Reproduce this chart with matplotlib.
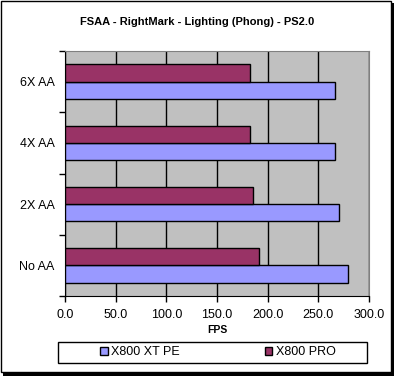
import numpy as np
import matplotlib.pyplot as plt
from matplotlib.patches import Rectangle

categories = ["No AA", "2X AA", "4X AA", "6X AA"]
xt_pe = [279, 270, 266, 266]
pro = [191, 186, 183, 183]
series_names = ["X800 XT PE", "X800 PRO"]
x_ticks = [0, 50, 100, 150, 200, 250, 300]

W, H = 394, 376
plt.rcParams['font.family'] = ['Liberation Sans', 'DejaVu Sans']

fig = plt.figure(figsize=(W / 100, H / 100), dpi=100)

# frame with drop shadow
fig.patches.append(Rectangle((3 / W, 0), 1 - 3 / W, 1 - 3 / H, transform=fig.transFigure,
                             facecolor="black", edgecolor="none", zorder=-3))
fig.patches.append(Rectangle((0.5 / W, 4 / H), 390 / W, 371 / H, transform=fig.transFigure,
                             facecolor="white", edgecolor="black", linewidth=1, zorder=-2))
# legend box
fig.patches.append(Rectangle((58 / W, 13 / H), 309 / W, 21 / H, transform=fig.transFigure,
                             facecolor="white", edgecolor="black", linewidth=1, zorder=-1))

ax = fig.add_axes([65 / W, 80 / H, 304 / W, 245 / H])
ax.set_facecolor("#C0C0C0")

y = np.arange(len(categories))
h = 0.28
ax.barh(y - h / 2, xt_pe, height=h, color="#9999FF", edgecolor="black", linewidth=1,
        label=series_names[0], zorder=3)
ax.barh(y + h / 2, pro, height=h, color="#993366", edgecolor="black", linewidth=1,
        label=series_names[1], zorder=3)

ax.set_xlim(0, 300)
ax.set_ylim(-0.5, len(categories) - 0.5)
ax.set_xticks(x_ticks)
ax.set_xticklabels([f"{v:.1f}" for v in x_ticks], fontsize=9)
ax.set_yticks(y)
ax.set_yticklabels(categories, fontsize=9)
ax.set_yticks(np.arange(len(categories) + 1) - 0.5, minor=True)
ax.tick_params(axis="y", which="major", length=0, pad=7.5)
ax.tick_params(axis="y", which="minor", length=4, direction="out", width=1)
ax.tick_params(axis="x", length=4, direction="out", width=1, pad=5)
ax.grid(axis="x", color="black", linewidth=1, zorder=1)
ax.set_axisbelow(True)

for s in ["top", "right"]:
    ax.spines[s].set_color("#808080")
for s in ["left", "bottom"]:
    ax.spines[s].set_color("black")

ax.set_xlabel("FPS", fontsize=7.5, fontweight="bold", labelpad=3)
fig.text(197 / W, 1 - 22 / H, "FSAA - RightMark - Lighting (Phong) - PS2.0",
         ha="center", va="center", fontsize=8, fontweight="bold")

fig.legend(loc="center", bbox_to_anchor=(218 / W, 1 - 352 / H), ncol=2,
           fontsize=9, frameon=False,
           handlelength=0.6, handleheight=0.6, handletextpad=0.3,
           columnspacing=6.8, borderpad=0.3)

fig.savefig("out.png", dpi=100)
